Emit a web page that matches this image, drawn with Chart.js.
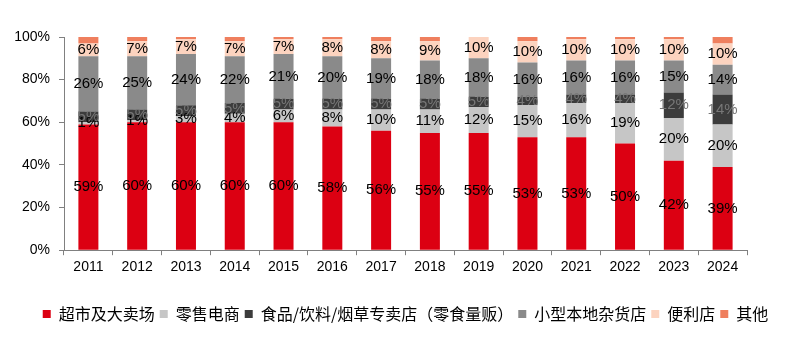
<!DOCTYPE html>
<html>
<head>
<meta charset="utf-8">
<script src="https://cdn.jsdelivr.net/npm/chart.js@4"></script>
<style>
    html, body { margin: 0; padding: 0; background: white; }
    #wrap { width: 796px; height: 354px; }
</style>
</head>
<body>
<div id="wrap"><canvas id="my-canvas"></canvas></div>
<script>
let years = ['2011', '2012', '2013', '2014', '2015', '2016', '2017', '2018', '2019', '2020', '2021', '2022', '2023', '2024'];
let series_names = ['超市及大卖场', '零售电商', '食品/饮料/烟草专卖店（零食量贩）', '小型本地杂货店', '便利店', '其他'];
let supermarket = [59, 60, 60, 60, 60, 58, 56, 55, 55, 53, 53, 50, 42, 39];
let ecommerce = [1, 1, 3, 4, 6, 8, 10, 11, 12, 15, 16, 19, 20, 20];
let specialty = [5, 5, 5, 5, 5, 5, 5, 5, 5, 4, 4, 4, 12, 14];
let grocery = [26, 25, 24, 22, 21, 20, 19, 18, 18, 16, 16, 16, 15, 14];
let convenience = [6, 7, 7, 7, 7, 8, 8, 9, 10, 10, 10, 10, 10, 10];
let others = [3, 2, 1, 2, 1, 1, 2, 2, 1, 2, 1, 1, 1, 3];
let y_ticks = [0, 20, 40, 60, 80, 100];

let colors = ['#dc0012', '#c6c6c6', '#3c3c3c', '#8a8a8a', '#fcd3bf', '#ef7f5e'];
let label_colors = ['#000', '#000', '#777777', '#000', '#000', null];
let all_values = [supermarket, ecommerce, specialty, grocery, convenience, others];

let datasets = [];
for (let i = 0; i < all_values.length; i++) {
    datasets.push({
        label: series_names[i],
        data: all_values[i],
        backgroundColor: colors[i],
        borderWidth: 0,
        barPercentage: 0.41,
        categoryPercentage: 1.0
    });
}

// draws the % value in the middle of each segment
const seg_labels = {
    id: 'seg_labels',
    afterLayout(chart) {
        // legend sits a bit right of the plot centre in the original
        chart.legend.left += 27;
        chart.legend.right += 27;
    },
    afterDatasetsDraw(chart) {
        let ctx = chart.ctx;
        ctx.save();
        ctx.font = '15px "Liberation Sans", Arial, sans-serif';
        ctx.textAlign = 'center';
        ctx.textBaseline = 'middle';
        chart.data.datasets.forEach((ds, i) => {
            if (!label_colors[i]) return;
            let meta = chart.getDatasetMeta(i);
            meta.data.forEach((el, j) => {
                ctx.fillStyle = label_colors[i];
                ctx.fillText(ds.data[j] + '%', el.x, (el.y + el.base) / 2);
            });
        });
        ctx.restore();
    }
};

let ctx = document.getElementById('my-canvas');
var chart = new Chart(ctx, {
    type: 'bar',
    data: { labels: years, datasets: datasets },
    plugins: [seg_labels],
    options: {
        responsive: true,
        maintainAspectRatio: false,
        animation: false,
        layout: { padding: { top: 37, left: 10, right: 49, bottom: 22 } },
        scales: {
            x: {
                stacked: true,
                afterFit: (scale) => { scale.height += 21; },
                grid: { display: true, drawOnChartArea: false, offset: true, tickLength: 5, color: '#808080' },
                border: { color: '#808080' },
                ticks: { color: '#000', padding: 4, font: { size: 14, family: '"Liberation Sans", Arial' } }
            },
            y: {
                stacked: true,
                min: 0,
                max: 100,
                afterFit: (scale) => { scale.width = 54; },
                afterBuildTicks: (scale) => { scale.ticks = y_ticks.map(v => ({ value: v })); },
                grid: { display: true, drawOnChartArea: false, tickLength: 5, color: '#808080' },
                border: { color: '#808080' },
                ticks: {
                    color: '#000',
                    padding: 9,
                    font: { size: 14, family: '"Liberation Sans", Arial' },
                    callback: (v) => v + '%'
                }
            }
        },
        plugins: {
            legend: {
                position: 'bottom',
                labels: {
                    boxWidth: 8,
                    boxHeight: 8,
                    padding: 5,
                    color: '#000',
                    font: { size: 16, family: '"Noto Sans CJK SC", sans-serif' }
                }
            },
            tooltip: { enabled: false }
        }
    }
});
</script>
</body>
</html>
